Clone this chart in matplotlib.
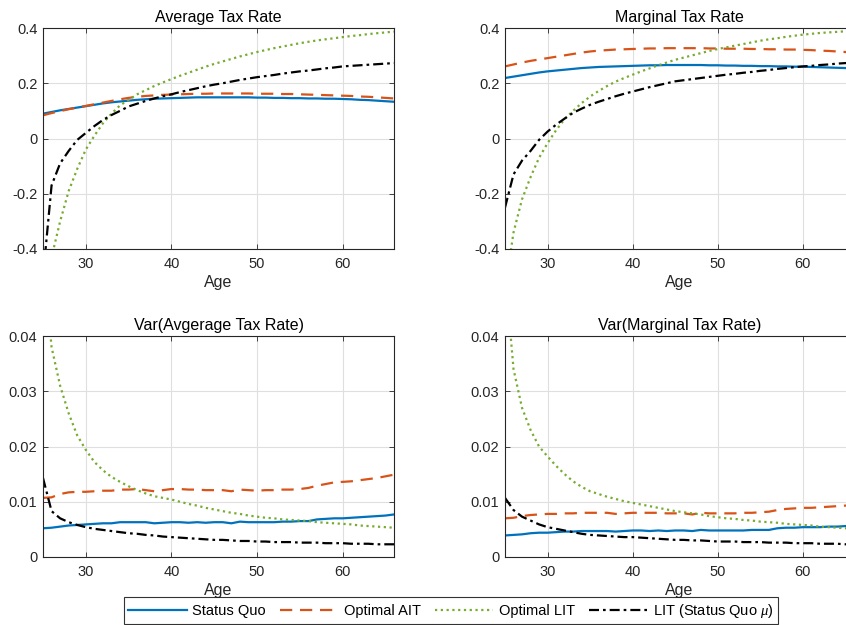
import matplotlib
matplotlib.use("Agg")
import matplotlib.pyplot as plt
import numpy as np

plt.rcParams['font.family'] = ['Liberation Sans', 'DejaVu Sans']
plt.rcParams['mathtext.fontset'] = 'custom'
plt.rcParams['mathtext.it'] = 'Liberation Serif:italic'

ages = np.arange(25, 67)

# ---- Average tax rate ----
atr_sq = [0.090, 0.096, 0.102, 0.107, 0.112, 0.117, 0.122, 0.127, 0.131, 0.134,
          0.137, 0.140, 0.142, 0.144, 0.145, 0.146, 0.147, 0.148, 0.149, 0.149,
          0.149, 0.149, 0.149, 0.149, 0.149, 0.148, 0.148, 0.147, 0.147, 0.146,
          0.146, 0.145, 0.145, 0.144, 0.144, 0.143, 0.142, 0.140, 0.139, 0.137,
          0.135, 0.133]
atr_ait = [0.084, 0.092, 0.099, 0.106, 0.112, 0.118, 0.124, 0.130, 0.136, 0.142,
           0.147, 0.151, 0.154, 0.156, 0.158, 0.159, 0.160, 0.161, 0.162, 0.162,
           0.163, 0.163, 0.163, 0.163, 0.163, 0.162, 0.162, 0.162, 0.161, 0.161,
           0.160, 0.159, 0.158, 0.157, 0.156, 0.155, 0.154, 0.152, 0.151, 0.149,
           0.147, 0.145]
atr_lit = [-0.62, -0.43, -0.30, -0.19, -0.11, -0.04, 0.010, 0.055, 0.090, 0.120,
           0.140, 0.160, 0.175, 0.190, 0.203, 0.215, 0.227, 0.238, 0.249, 0.260,
           0.270, 0.279, 0.288, 0.297, 0.305, 0.313, 0.320, 0.327, 0.333, 0.339,
           0.345, 0.350, 0.355, 0.359, 0.363, 0.367, 0.371, 0.374, 0.378, 0.381,
           0.384, 0.387]
atr_litsq = [-0.50, -0.17, -0.09, -0.045, -0.005, 0.020, 0.045, 0.067, 0.085, 0.100,
             0.116, 0.126, 0.136, 0.145, 0.153, 0.160, 0.168, 0.175, 0.182, 0.189,
             0.195, 0.200, 0.206, 0.212, 0.217, 0.222, 0.226, 0.230, 0.235, 0.239,
             0.243, 0.246, 0.250, 0.254, 0.257, 0.261, 0.263, 0.265, 0.267, 0.269,
             0.271, 0.273]

# ---- Marginal tax rate ----
mtr_sq = [0.219, 0.224, 0.229, 0.234, 0.239, 0.243, 0.246, 0.249, 0.252, 0.255,
          0.257, 0.259, 0.260, 0.261, 0.262, 0.263, 0.264, 0.265, 0.265, 0.266,
          0.266, 0.266, 0.266, 0.266, 0.265, 0.265, 0.264, 0.264, 0.263, 0.263,
          0.262, 0.262, 0.261, 0.261, 0.260, 0.260, 0.259, 0.258, 0.257, 0.256,
          0.255, 0.254]
mtr_ait = [0.261, 0.268, 0.275, 0.281, 0.286, 0.291, 0.296, 0.301, 0.306, 0.311,
           0.315, 0.318, 0.320, 0.322, 0.323, 0.324, 0.325, 0.326, 0.326, 0.327,
           0.327, 0.327, 0.327, 0.327, 0.326, 0.326, 0.325, 0.325, 0.325, 0.324,
           0.324, 0.323, 0.323, 0.322, 0.322, 0.321, 0.320, 0.318, 0.317, 0.315,
           0.313, 0.311]
mtr_lit = [-0.55, -0.34, -0.22, -0.14, -0.07, -0.017, 0.030, 0.070, 0.100, 0.128,
           0.152, 0.172, 0.190, 0.206, 0.219, 0.231, 0.243, 0.254, 0.265, 0.275,
           0.285, 0.293, 0.301, 0.309, 0.317, 0.324, 0.330, 0.336, 0.342, 0.348,
           0.354, 0.359, 0.363, 0.368, 0.372, 0.376, 0.379, 0.382, 0.384, 0.386,
           0.388, 0.390]
mtr_litsq = [-0.25, -0.13, -0.08, -0.045, -0.005, 0.025, 0.050, 0.072, 0.093, 0.108,
             0.122, 0.133, 0.143, 0.153, 0.162, 0.170, 0.178, 0.186, 0.193, 0.200,
             0.207, 0.211, 0.215, 0.219, 0.223, 0.227, 0.231, 0.234, 0.238, 0.241,
             0.245, 0.248, 0.252, 0.255, 0.258, 0.261, 0.263, 0.266, 0.268, 0.271,
             0.273, 0.275]

# ---- Variance of average tax rate ----
vatr_sq = [0.0052, 0.0053, 0.0055, 0.0057, 0.0058, 0.0059, 0.0060, 0.0061, 0.0061, 0.0063,
           0.0063, 0.0063, 0.0063, 0.0061, 0.0062, 0.0063, 0.0063, 0.0062, 0.0063, 0.0062,
           0.0063, 0.0063, 0.0061, 0.0064, 0.0063, 0.0063, 0.0063, 0.0063, 0.0064, 0.0064,
           0.0065, 0.0065, 0.0068, 0.0069, 0.0070, 0.0070, 0.0071, 0.0072, 0.0073, 0.0074,
           0.0075, 0.0077]
vatr_ait = [0.0107, 0.0108, 0.0114, 0.0117, 0.0118, 0.0118, 0.0119, 0.0120, 0.0120, 0.0122,
            0.0122, 0.0123, 0.0121, 0.0119, 0.0121, 0.0123, 0.0123, 0.0122, 0.0122, 0.0121,
            0.0121, 0.0121, 0.0119, 0.0122, 0.0121, 0.0120, 0.0121, 0.0121, 0.0122, 0.0122,
            0.0123, 0.0125, 0.0129, 0.0132, 0.0135, 0.0136, 0.0137, 0.0139, 0.0141, 0.0143,
            0.0146, 0.0149]
vatr_lit = [0.055, 0.038, 0.031, 0.026, 0.022, 0.0194, 0.0172, 0.0157, 0.0145, 0.0136,
            0.0128, 0.0121, 0.0115, 0.0110, 0.0107, 0.0104, 0.0100, 0.0096, 0.0093, 0.0089,
            0.0086, 0.0083, 0.0080, 0.0078, 0.0075, 0.0073, 0.0071, 0.0070, 0.0068, 0.0067,
            0.0066, 0.0065, 0.0063, 0.0062, 0.0061, 0.0060, 0.0059, 0.0057, 0.0056, 0.0055,
            0.0054, 0.0053]
vatr_litsq = [0.0143, 0.0083, 0.0070, 0.0063, 0.0058, 0.0054, 0.0051, 0.0049, 0.0047, 0.0045,
              0.0043, 0.0042, 0.0040, 0.0039, 0.0037, 0.0036, 0.0035, 0.0034, 0.0033, 0.0032,
              0.0031, 0.0031, 0.0030, 0.0029, 0.0029, 0.0028, 0.0028, 0.0027, 0.0027, 0.0027,
              0.0026, 0.0026, 0.0026, 0.0025, 0.0025, 0.0025, 0.0024, 0.0024, 0.0024, 0.0023,
              0.0023, 0.0023]

# ---- Variance of marginal tax rate ----
vmtr_sq = [0.0039, 0.0040, 0.0041, 0.0043, 0.0044, 0.0044, 0.0045, 0.0046, 0.0046, 0.0047,
           0.0047, 0.0047, 0.0047, 0.0046, 0.0047, 0.0048, 0.0048, 0.0047, 0.0048, 0.0047,
           0.0048, 0.0048, 0.0047, 0.0049, 0.0048, 0.0048, 0.0048, 0.0048, 0.0048, 0.0049,
           0.0049, 0.0049, 0.0052, 0.0053, 0.0053, 0.0054, 0.0054, 0.0054, 0.0055, 0.0055,
           0.0056, 0.0056]
vmtr_ait = [0.0070, 0.0071, 0.0074, 0.0076, 0.0077, 0.0078, 0.0078, 0.0079, 0.0079, 0.0080,
            0.0080, 0.0080, 0.0080, 0.0078, 0.0079, 0.0080, 0.0080, 0.0080, 0.0080, 0.0079,
            0.0079, 0.0079, 0.0077, 0.0080, 0.0079, 0.0079, 0.0079, 0.0079, 0.0080, 0.0080,
            0.0081, 0.0082, 0.0085, 0.0087, 0.0088, 0.0089, 0.0089, 0.0090, 0.0091, 0.0092,
            0.0093, 0.0094]
vmtr_lit = [0.052, 0.034, 0.027, 0.023, 0.020, 0.0182, 0.0165, 0.0150, 0.0137, 0.0127,
            0.0119, 0.0114, 0.0109, 0.0105, 0.0101, 0.0098, 0.0095, 0.0092, 0.0089, 0.0086,
            0.0083, 0.0081, 0.0079, 0.0077, 0.0074, 0.0072, 0.0070, 0.0069, 0.0067, 0.0066,
            0.0064, 0.0063, 0.0062, 0.0060, 0.0059, 0.0058, 0.0057, 0.0055, 0.0054, 0.0053,
            0.0052, 0.0051]
vmtr_litsq = [0.0107, 0.0085, 0.0073, 0.0066, 0.0059, 0.0054, 0.0051, 0.0048, 0.0045, 0.0042,
              0.0040, 0.0039, 0.0038, 0.0037, 0.0036, 0.0036, 0.0035, 0.0034, 0.0033, 0.0032,
              0.0031, 0.0031, 0.0030, 0.0030, 0.0029, 0.0028, 0.0028, 0.0028, 0.0027, 0.0027,
              0.0027, 0.0026, 0.0026, 0.0026, 0.0025, 0.0025, 0.0025, 0.0024, 0.0024, 0.0024,
              0.0023, 0.0023]

series_names = ['Status Quo', 'Optimal AIT', 'Optimal LIT', r'LIT (Status Quo $\mu$)']
colors = ['#0072BD', '#D95319', '#77AC30', '#000000']
styles = ['-', (0, (5.5, 3.5)), (0, (1, 1.6)), (0, (4.5, 1.8, 1.2, 1.8))]

panels = [
    ('Average Tax Rate', [atr_sq, atr_ait, atr_lit, atr_litsq],
     (-0.4, 0.4), [-0.4, -0.2, 0, 0.2, 0.4], ['-0.4', '-0.2', '0', '0.2', '0.4']),
    ('Marginal Tax Rate', [mtr_sq, mtr_ait, mtr_lit, mtr_litsq],
     (-0.4, 0.4), [-0.4, -0.2, 0, 0.2, 0.4], ['-0.4', '-0.2', '0', '0.2', '0.4']),
    ('Var(Avgerage Tax Rate)', [vatr_sq, vatr_ait, vatr_lit, vatr_litsq],
     (0, 0.04), [0, 0.01, 0.02, 0.03, 0.04], ['0', '0.01', '0.02', '0.03', '0.04']),
    ('Var(Marginal Tax Rate)', [vmtr_sq, vmtr_ait, vmtr_lit, vmtr_litsq],
     (0, 0.04), [0, 0.01, 0.02, 0.03, 0.04], ['0', '0.01', '0.02', '0.03', '0.04']),
]

W, H = 846, 625
fig = plt.figure(figsize=(W / 100, H / 100), dpi=100)

# axes rectangles in pixels: left, top, right, bottom
rects = [(43, 28, 394, 249), (505, 28, 854, 249),
         (43, 336, 394, 557), (505, 336, 854, 557)]

axis_col = '#262626'
handles = None
for (title, data, ylim, yt, ytl), (l, t, r, b) in zip(panels, rects):
    ax = fig.add_axes([l / W, 1 - b / H, (r - l) / W, (b - t) / H])
    hs = []
    for vals, c, ls, name in zip(data, colors, styles, series_names):
        h, = ax.plot(ages, vals, color=c, linestyle=ls, linewidth=1.6, label=name)
        hs.append(h)
    handles = hs
    ax.set_xlim(25, 66)
    ax.set_ylim(*ylim)
    ax.set_xticks([30, 40, 50, 60])
    ax.set_yticks(yt)
    ax.set_yticklabels(ytl)
    ax.grid(True, color='#dfdfdf', linewidth=0.8)
    ax.set_axisbelow(True)
    ax.tick_params(direction='in', length=3.5, width=0.6, top=True, right=True,
                   labelsize=10.5, colors=axis_col, labelcolor=axis_col)
    ax.tick_params(axis='x', pad=5.5)
    ax.tick_params(axis='y', pad=4)
    for s in ax.spines.values():
        s.set_color(axis_col)
        s.set_linewidth(0.8)
    ax.set_title(title, fontsize=11.5, pad=4, color='#000000')
    ax.set_xlabel('Age', fontsize=11.5, color=axis_col, labelpad=3)

leg = fig.legend(handles, series_names, loc='lower center', ncol=4,
                 bbox_to_anchor=(451 / W, 1.0 / H), fontsize=10.5, frameon=True,
                 fancybox=False, edgecolor='#000000', handlelength=4.0,
                 columnspacing=0.95, handletextpad=0.4, borderpad=0.3,
                 borderaxespad=0)
leg.get_frame().set_linewidth(0.8)

fig.savefig('out.png', dpi=100)
